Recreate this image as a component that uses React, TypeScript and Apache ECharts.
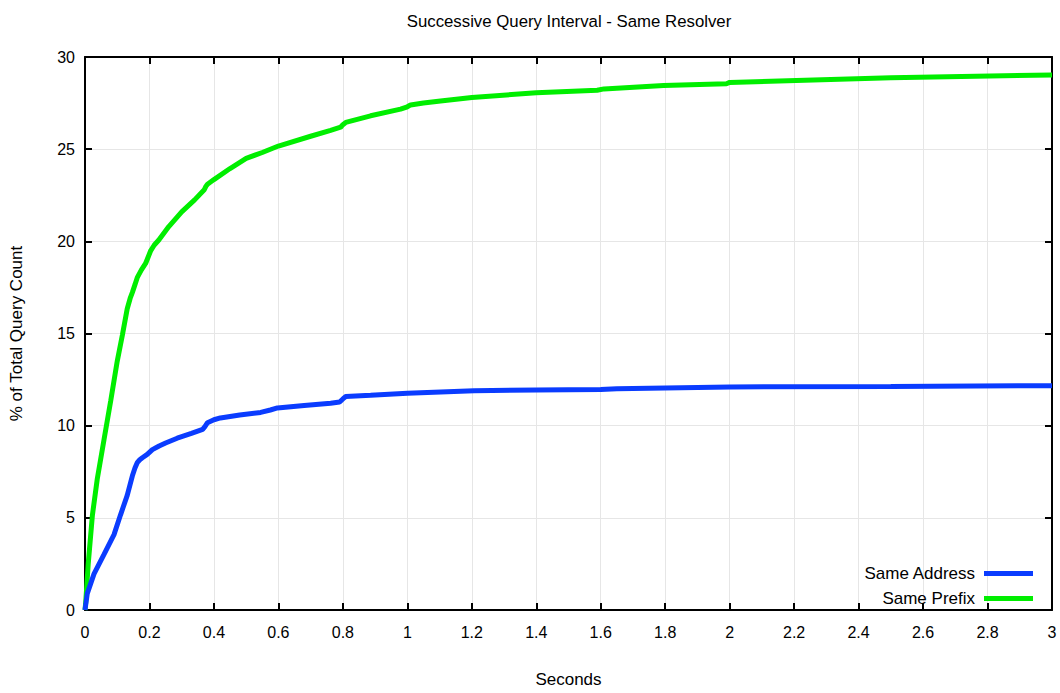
import React, { useEffect, useRef } from "react";
import * as echarts from "echarts";

const titleText = "Successive Query Interval - Same Resolver";
const xName = "Seconds";
const yName = "% of Total Query Count";
const seriesNames = ["Same Address", "Same Prefix"];

const addrX = [0, 0.007, 0.028, 0.059, 0.09, 0.11, 0.131, 0.147, 0.155, 0.162, 0.17, 0.178, 0.193, 0.209, 0.23, 0.25, 0.286, 0.33, 0.365, 0.372, 0.38, 0.4, 0.42, 0.48, 0.545, 0.575, 0.597, 0.68, 0.762, 0.79, 0.8, 0.809, 0.886, 1.0, 1.207, 1.4, 1.6, 1.65, 2.0, 2.5, 3.0];
const addrY = [0, 0.89, 1.96, 3.02, 4.09, 5.15, 6.22, 7.28, 7.7, 7.99, 8.15, 8.26, 8.44, 8.7, 8.9, 9.06, 9.32, 9.58, 9.8, 9.95, 10.16, 10.32, 10.42, 10.58, 10.72, 10.85, 10.96, 11.1, 11.22, 11.28, 11.45, 11.58, 11.65, 11.76, 11.9, 11.93, 11.96, 12.0, 12.1, 12.13, 12.17];

const prefX = [0, 0.002, 0.01, 0.023, 0.038, 0.059, 0.08, 0.1, 0.116, 0.131, 0.14, 0.147, 0.155, 0.162, 0.175, 0.188, 0.196, 0.204, 0.215, 0.229, 0.26, 0.3, 0.34, 0.37, 0.375, 0.38, 0.4, 0.45, 0.5, 0.55, 0.6, 0.7, 0.762, 0.793, 0.8, 0.809, 0.886, 0.979, 1.0, 1.01, 1.05, 1.103, 1.2, 1.4, 1.589, 1.61, 1.795, 1.99, 2.0, 2.5, 3.0];
const prefY = [0, 0.36, 2.5, 5.15, 7.1, 9.24, 11.37, 13.5, 14.92, 16.34, 16.9, 17.23, 17.65, 18.03, 18.45, 18.8, 19.15, 19.5, 19.8, 20.07, 20.8, 21.6, 22.25, 22.8, 22.98, 23.1, 23.35, 23.95, 24.5, 24.82, 25.17, 25.7, 26.02, 26.19, 26.33, 26.45, 26.81, 27.17, 27.3, 27.4, 27.5, 27.61, 27.8, 28.06, 28.2, 28.27, 28.45, 28.55, 28.62, 28.88, 29.03];

const colors = ["#0a3cff", "#00ee00"];
const FONT = "Liberation Sans";

export default function App() {
  const ref = useRef<HTMLDivElement>(null);
  useEffect(() => {
    if (!ref.current) return;
    const chart = echarts.init(ref.current, null, { renderer: "svg" });
    const fmt = (v: number) => String(parseFloat(v.toFixed(1)));
    const gridLine = { show: true, lineStyle: { color: "#e6e6e6", width: 1 } };
    const axisLine = { show: true, onZero: false, lineStyle: { color: "#000", width: 2 } };
    const tick = { show: true, inside: true, length: 7, lineStyle: { color: "#000", width: 2 } };
    chart.setOption({
      animation: false,
      backgroundColor: "#fff",
      title: {
        text: titleText,
        left: 564,
        top: 8,
        textAlign: "center",
        textStyle: { fontFamily: FONT, fontSize: 16.8, fontWeight: "normal", color: "#000" },
      },
      legend: {
        orient: "vertical",
        right: 27,
        top: 565,
        padding: 0,
        align: "right",
        itemWidth: 49,
        itemHeight: 5,
        itemGap: 8,
        icon: "rect",
        textStyle: { fontFamily: FONT, fontSize: 17, color: "#000", padding: [0, 4, 0, 0] },
        data: seriesNames,
      },
      grid: { left: 84, right: 8, top: 57, bottom: 72, containLabel: false },
      xAxis: [
        {
          type: "value",
          min: 0,
          max: 3,
          interval: 0.2,
          name: xName,
          nameLocation: "middle",
          nameGap: 61,
          nameTextStyle: { fontFamily: FONT, fontSize: 17, color: "#000" },
          axisLine,
          axisTick: tick,
          splitLine: gridLine,
          axisLabel: { formatter: fmt, fontFamily: FONT, fontSize: 16, color: "#000", margin: 14 },
        },
        {
          type: "value",
          position: "top",
          min: 0,
          max: 3,
          interval: 0.2,
          axisLine,
          axisTick: tick,
          splitLine: { show: false },
          axisLabel: { show: false },
        },
      ],
      yAxis: [
        {
          type: "value",
          min: 0,
          max: 30,
          interval: 5,
          name: yName,
          nameLocation: "middle",
          nameGap: 60,
          nameTextStyle: { fontFamily: FONT, fontSize: 17, color: "#000" },
          axisLine,
          axisTick: tick,
          splitLine: gridLine,
          axisLabel: { fontFamily: FONT, fontSize: 16, color: "#000", margin: 10 },
        },
        {
          type: "value",
          position: "right",
          min: 0,
          max: 30,
          interval: 5,
          axisLine,
          axisTick: tick,
          splitLine: { show: false },
          axisLabel: { show: false },
        },
      ],
      series: [
        {
          name: seriesNames[0],
          type: "line",
          showSymbol: false,
          symbol: "none",
          color: colors[0],
          lineStyle: { width: 5, color: colors[0] },
          data: addrX.map((x, i) => [x, addrY[i]]),
          z: 3,
        },
        {
          name: seriesNames[1],
          type: "line",
          showSymbol: false,
          symbol: "none",
          color: colors[1],
          lineStyle: { width: 5, color: colors[1] },
          data: prefX.map((x, i) => [x, prefY[i]]),
          z: 2,
        },
      ],
    });
    return () => chart.dispose();
  }, []);
  return (
    <div
      ref={ref}
      style={{ position: "fixed", left: 0, top: 0, width: 1060, height: 693, background: "#fff" }}
    />
  );
}
